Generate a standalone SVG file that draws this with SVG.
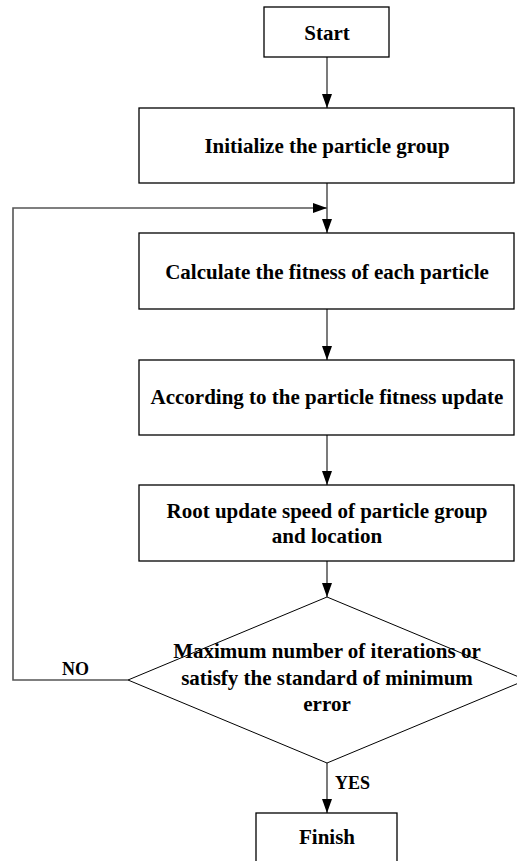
<svg xmlns="http://www.w3.org/2000/svg" width="517" height="861" viewBox="0 0 517 861">
<style>
.box{fill:#fff;stroke:#000;stroke-width:1.3}
.dia{fill:#fff;stroke:#000;stroke-width:1}
.t{font-family:"Liberation Serif","Times New Roman",serif;font-weight:bold;font-size:21px;fill:#000;text-anchor:middle}
.lbl{font-family:"Liberation Serif","Times New Roman",serif;font-weight:bold;font-size:18px;fill:#000}
.c{fill:none;stroke:#333;stroke-width:1.3}
.fb{fill:none;stroke:#555;stroke-width:1.6}
</style>
<defs>
<marker id="ah" markerUnits="userSpaceOnUse" markerWidth="16" markerHeight="12" refX="14" refY="5" orient="auto">
<path d="M0,0 L14,5 L0,10 Z" fill="#000"/>
</marker>
</defs>
<rect width="517" height="861" fill="#fff"/>
<g id="connectors">
<line class="c" x1="327" y1="57" x2="327" y2="108" marker-end="url(#ah)"/>
<line class="c" x1="327" y1="183" x2="327" y2="233" marker-end="url(#ah)"/>
<polyline class="fb" points="128,680 13,680 13,208 327,208" marker-end="url(#ah)"/>
<line class="c" x1="327" y1="309" x2="327" y2="360" marker-end="url(#ah)"/>
<line class="c" x1="327" y1="435" x2="327" y2="485" marker-end="url(#ah)"/>
<line class="c" x1="327" y1="561" x2="327" y2="597" marker-end="url(#ah)"/>
<line class="c" x1="327" y1="763" x2="327" y2="813" marker-end="url(#ah)"/>
<text class="lbl" x="62" y="675">NO</text>
<text class="lbl" x="335" y="789">YES</text>
</g>
<g id="start">
<rect class="box" x="264" y="7" width="125" height="50"/>
<text class="t" x="327" y="39.5">Start</text>
</g>
<g id="init">
<rect class="box" x="139" y="108" width="375" height="75"/>
<text class="t" x="327" y="152.5">Initialize the particle group</text>
</g>
<g id="calc">
<rect class="box" x="139" y="233" width="375" height="76"/>
<text class="t" x="327" y="278.5">Calculate the fitness of each particle</text>
</g>
<g id="accord">
<rect class="box" x="139" y="360" width="375" height="75"/>
<text class="t" x="327" y="404">According to the particle fitness update</text>
</g>
<g id="root">
<rect class="box" x="139" y="485" width="375" height="76"/>
<text class="t" x="327" y="518">Root update speed of particle group</text>
<text class="t" x="327" y="542.5">and location</text>
</g>
<g id="decision">
<polygon class="dia" points="327,597 526,680 327,763 128,680"/>
<text class="t" x="327" y="658">Maximum number of iterations or</text>
<text class="t" x="327" y="685">satisfy the standard of minimum</text>
<text class="t" x="327" y="711">error</text>
</g>
<g id="finish">
<rect class="box" x="256" y="813" width="141" height="60"/>
<text class="t" x="327" y="844">Finish</text>
</g>
</svg>
